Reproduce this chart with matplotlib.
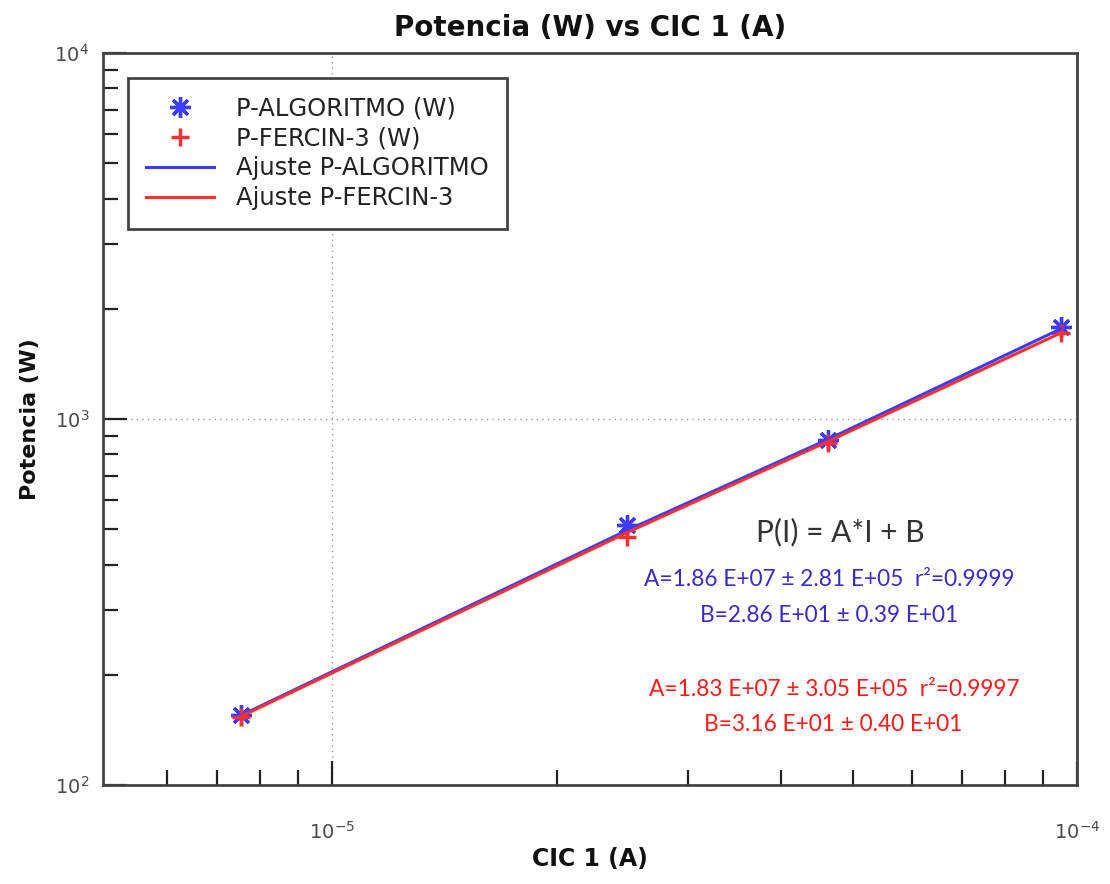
import matplotlib
matplotlib.use("Agg")
import matplotlib.pyplot as plt
from matplotlib.ticker import NullFormatter, FixedLocator

# datos
cic = [7.54e-6, 2.49e-5, 4.63e-5, 9.52e-5]
p_algoritmo = [155, 513, 877, 1782]
p_fercin = [153, 476, 859, 1718]
ajuste_algoritmo = [155, 497, 880, 1765]
ajuste_fercin = [154, 490, 868, 1720]

x_menores = [6e-6, 7e-6, 8e-6, 9e-6, 2e-5, 3e-5, 4e-5, 5e-5, 6e-5, 7e-5, 8e-5, 9e-5]

texto_modelo = "P(I) = A*I + B"
texto_alg = ["A=1.86 E+07 \u00b1 2.81 E+05  r\u00b2=0.9999", "B=2.86 E+01 \u00b1 0.39 E+01"]
texto_fer = ["A=1.83 E+07 \u00b1 3.05 E+05  r\u00b2=0.9997", "B=3.16 E+01 \u00b1 0.40 E+01"]

AZUL = "#3c3cff"
ROJO = "#ff3030"
GRIS = "#444444"

fig = plt.figure(figsize=(11.1, 8.84), dpi=100)
ax = fig.add_axes([103 / 1110, 1 - 785 / 884, 974 / 1110, 732 / 884])

ax.plot(cic, p_algoritmo, ls="none", marker=(8, 2, 0), ms=15, mew=2.4,
        color=AZUL, label="P-ALGORITMO (W)")
ax.plot(cic, p_fercin, ls="none", marker="+", ms=13, mew=2.5,
        color=ROJO, label="P-FERCIN-3 (W)")
ax.plot(cic, ajuste_algoritmo, color=AZUL, lw=2.2, label="Ajuste P-ALGORITMO")
ax.plot(cic, ajuste_fercin, color=ROJO, lw=2.2, label="Ajuste P-FERCIN-3")

ax.set_xscale("log")
ax.set_yscale("log")
ax.set_xlim(4.92e-6, 1e-4)
ax.set_ylim(1e2, 1e4)
ax.xaxis.set_minor_locator(FixedLocator(x_menores))
ax.xaxis.set_minor_formatter(NullFormatter())
ax.yaxis.set_minor_formatter(NullFormatter())

ax.grid(True, which="major", ls=(0, (1, 3)), color="#999999", lw=1)

for s in ["left", "bottom", "right", "top"]:
    ax.spines[s].set_color(GRIS)
    ax.spines[s].set_linewidth(2)
ax.tick_params(which="both", direction="in", top=False, right=False,
               color="#222222", width=1.6, labelcolor="#4a4a4a", labelsize=14)
ax.tick_params(which="major", length=17)
ax.tick_params(which="minor", length=11)
ax.tick_params(axis="x", which="major", pad=26)
ax.tick_params(axis="y", which="major", pad=10)

ax.set_title("Potencia (W) vs CIC 1 (A)", fontsize=20, fontweight="bold",
             color="#111111", pad=12)
ax.set_xlabel("CIC 1 (A)", fontsize=17, fontweight="bold", color="#111111", labelpad=3)
ax.set_ylabel("Potencia (W)", fontsize=16, fontweight="bold", color="#111111", labelpad=10)

leg = ax.legend(loc="upper left", bbox_to_anchor=(0.0257, 0.966), borderaxespad=0,
                fontsize=17.5, fancybox=False, edgecolor=GRIS, framealpha=1,
                handlelength=2.8, handletextpad=0.9, labelspacing=0.25, borderpad=0.75)
leg.get_frame().set_linewidth(2)
for t in leg.get_texts():
    t.set_color("#222222")

ax.text(0.757, 0.3456, texto_modelo, transform=ax.transAxes, ha="center", va="center",
        fontsize=21.5, family="Lato", color="#333333")
ax.text(0.746, 0.2814, texto_alg[0], transform=ax.transAxes, ha="center", va="center",
        fontsize=16.3, family="Lato", color="#3a2bc8")
ax.text(0.746, 0.2322, texto_alg[1], transform=ax.transAxes, ha="center", va="center",
        fontsize=16.3, family="Lato", color="#3a2bc8")
ax.text(0.751, 0.1311, texto_fer[0], transform=ax.transAxes, ha="center", va="center",
        fontsize=16.3, family="Lato", color="#ff1a1a")
ax.text(0.750, 0.0820, texto_fer[1], transform=ax.transAxes, ha="center", va="center",
        fontsize=16.3, family="Lato", color="#ff1a1a")

fig.savefig("out.png", dpi=100)
